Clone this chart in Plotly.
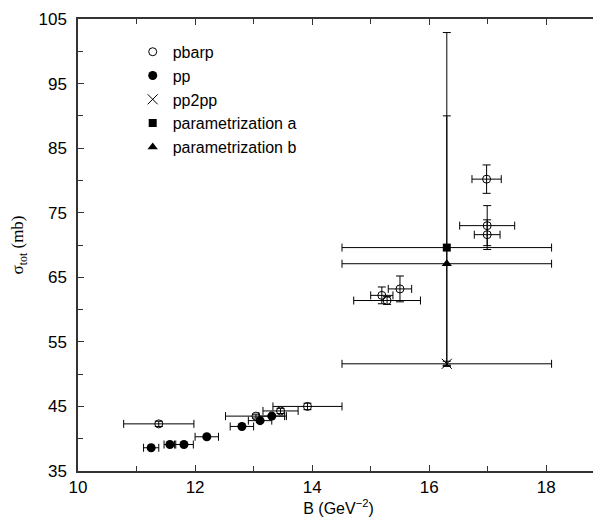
import plotly.graph_objects as go

# pbarp data
pbarp_B = [11.38, 13.04, 13.46, 13.92, 15.19, 15.28, 15.50, 16.99, 16.99, 16.98]
pbarp_sig = [42.3, 43.5, 44.3, 45.0, 62.2, 61.4, 63.2, 71.6, 73.0, 80.2]
pbarp_Berr = [0.60, 0.52, 0.30, 0.59, 0.19, 0.57, 0.20, 0.22, 0.47, 0.25]
pbarp_sigerr = [0.4, 0.3, 0.4, 0.5, 1.3, 0.6, 2.0, 2.3, 3.1, 2.2]

# pp data
pp_B = [11.25, 11.57, 11.81, 12.20, 12.80, 13.11, 13.31]
pp_sig = [38.6, 39.1, 39.1, 40.3, 41.9, 42.8, 43.5]
pp_Berr = [0.13, 0.10, 0.16, 0.20, 0.20, 0.20, 0.22]

# pp2pp
pp2pp_B = [16.30]
pp2pp_sig = [51.6]
pp2pp_Berr = [1.79]
pp2pp_sigerr = [0.4]

# parametrizations
para_B = [16.30]
para_sig = [69.6]
para_Berr = [1.79]
para_up = [33.3]
para_dn = [18.2]

parb_B = [16.30]
parb_sig = [67.1]
parb_Berr = [1.79]
parb_up = [22.9]
parb_dn = [15.8]

fig = go.Figure()

eb = dict(color="black", thickness=1, width=4)

fig.add_trace(go.Scatter(
    x=pbarp_B, y=pbarp_sig, mode="markers", name="pbarp",
    marker=dict(symbol="circle-open", size=8, color="black", line=dict(width=1)),
    error_x=dict(type="data", array=pbarp_Berr, **eb),
    error_y=dict(type="data", array=pbarp_sigerr, **eb),
))
fig.add_trace(go.Scatter(
    x=pp_B, y=pp_sig, mode="markers", name="pp",
    marker=dict(symbol="circle", size=9, color="black"),
    error_x=dict(type="data", array=pp_Berr, **eb),
))
fig.add_trace(go.Scatter(
    x=pp2pp_B, y=pp2pp_sig, mode="markers", name="pp2pp",
    marker=dict(symbol="x-thin-open", size=10, color="black", line=dict(width=1, color="black")),
    error_x=dict(type="data", array=pp2pp_Berr, **eb),
    error_y=dict(type="data", array=pp2pp_sigerr, **eb),
))
fig.add_trace(go.Scatter(
    x=para_B, y=para_sig, mode="markers", name="parametrization a",
    marker=dict(symbol="square", size=8, color="black"),
    error_x=dict(type="data", array=para_Berr, **eb),
    error_y=dict(type="data", array=para_up, arrayminus=para_dn, symmetric=False, **eb),
))
fig.add_trace(go.Scatter(
    x=parb_B, y=parb_sig, mode="markers", name="parametrization b",
    marker=dict(symbol="triangle-up", size=9, color="black"),
    error_x=dict(type="data", array=parb_Berr, **eb),
    error_y=dict(type="data", array=parb_up, arrayminus=parb_dn, symmetric=False, **eb),
))

axis_common = dict(
    showgrid=False, zeroline=False, showline=True, linecolor="#333", linewidth=1.5,
    mirror="ticks", ticks="inside", ticklen=6, tickcolor="#333", automargin=False,
    tickfont=dict(family="Liberation Sans, Arial", size=17, color="black"),
)

fig.update_xaxes(
    range=[10, 18.9], tick0=10, dtick=2,
    minor=dict(ticks="inside", dtick=1, ticklen=5, tickcolor="#333"),
    title=dict(text="B (GeV<sup>\u22122</sup>)", font=dict(family="Liberation Sans, Arial", size=16, color="black"), standoff=3),
    **axis_common,
)
fig.update_yaxes(
    range=[35, 105], tick0=35, dtick=10,
    minor=dict(ticks="inside", dtick=5, ticklen=5, tickcolor="#333"),
    ticklabelstandoff=6,
    title=dict(text="\u03c3<sub>tot</sub> (mb)", font=dict(family="Liberation Serif, Times New Roman", size=17, color="black"), standoff=28),
    **axis_common,
)

fig.update_layout(
    width=593, height=516,
    margin=dict(l=70, r=2, t=11, b=53),
    plot_bgcolor="white", paper_bgcolor="white",
    showlegend=True,
    legend=dict(x=0.105, y=0.965, xanchor="left", yanchor="top",
                font=dict(family="Liberation Sans, Arial", size=16, color="black"),
                bgcolor="rgba(0,0,0,0)", itemwidth=30, tracegroupgap=0),
)

fig.write_html("out.html")
